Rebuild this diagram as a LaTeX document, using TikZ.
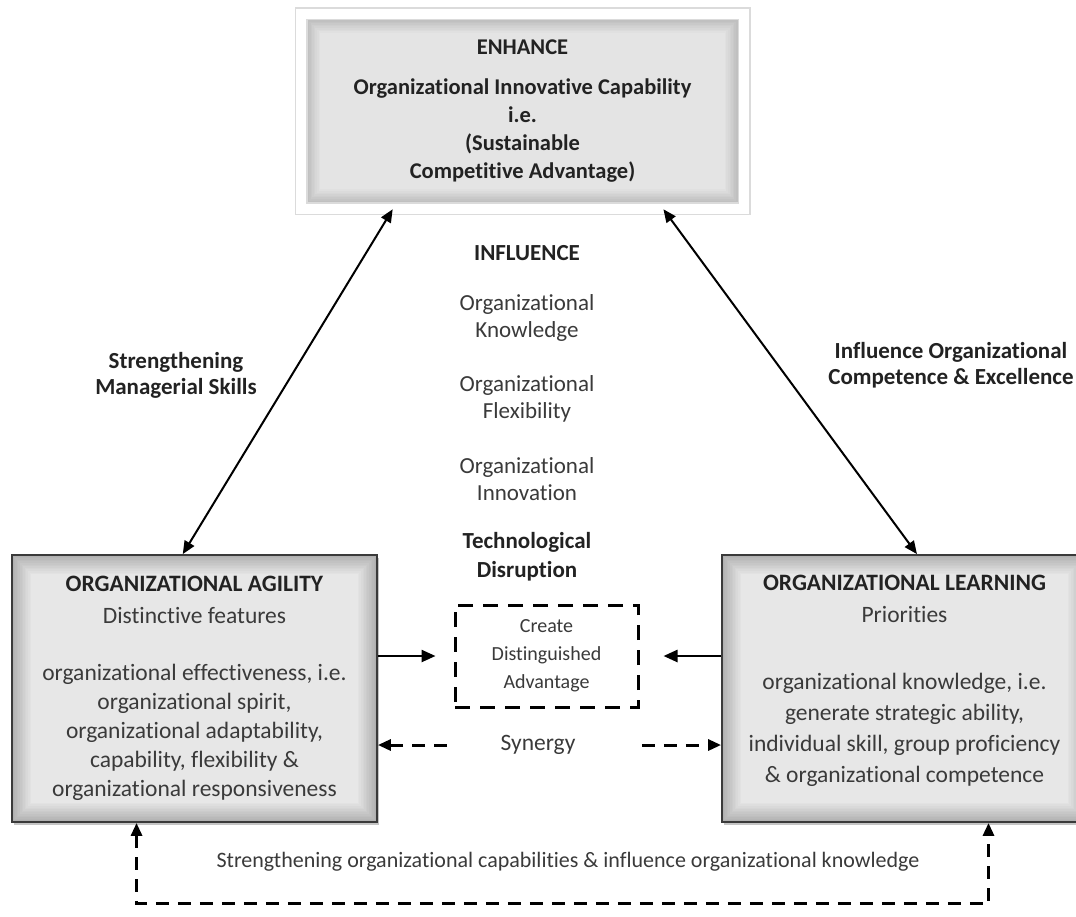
\documentclass[tikz,border=0pt]{standalone}
\usepackage{fontspec}
\setmainfont{Carlito}[Ligatures=NoCommon]
\usetikzlibrary{arrows.meta,calc,shadows}
\definecolor{txt_gray}{HTML}{3A3A3A}
\definecolor{bold_gray}{HTML}{222222}
\definecolor{edge_gray}{HTML}{3A3A3A}

\tikzset{
    % grey frame with a bevelled edge
    bevel/.style={path picture={
        \foreach \k in {0,...,12}{
            \pgfmathsetmacro{\lvl}{#1-1.8*\k}
            \fill[black!\lvl] ([shift={(\k*1.6pt,-\k*1.6pt)}]path picture bounding box.north west)
                rectangle ([shift={(-\k*1.6pt,\k*1.6pt)}]path picture bounding box.south east);
        }}},
    mainbox/.style={minimum width=365pt, minimum height=267pt, inner sep=0pt,
        draw=edge_gray, line width=1.8pt, bevel=31,
        drop shadow={shadow xshift=1.5pt, shadow yshift=-3pt, opacity=0.45}},
    topbox/.style={minimum width=443pt, minimum height=195pt, inner sep=0pt,
        draw=black!14, line width=1.5pt, double=white, double distance=10pt, bevel=32},
    advbox/.style={minimum width=183pt, minimum height=102pt, draw=black,
        line width=3pt, dash pattern=on 15pt off 10pt,
        font=\fontsize{20}{28}\selectfont},
    headtext/.style={font=\fontsize{23}{26}\selectfont\bfseries, text=bold_gray},
    colitem/.style={font=\fontsize{23}{27}\selectfont},
    twoway/.style={{Triangle[length=13pt,width=11pt]}-{Triangle[length=13pt,width=11pt]},
        line width=2pt},
    oneway/.style={-{Triangle[length=14pt,width=12pt]}, line width=2.5pt},
    dashway/.style={-{Triangle[length=13pt,width=11pt]}, line width=3pt,
        dash pattern=on 13pt off 9pt},
}

\begin{document}
\begin{tikzpicture}[x=1pt, y=-1pt,
    every node/.style={align=center, text=txt_gray, font=\fontsize{23.5}{29}\selectfont}]

    \useasboundingbox[fill=white] (0,0) rectangle (1076,916);

    % the three boxes
    \node[topbox, headtext, font=\fontsize{22.5}{28}\selectfont\bfseries] (enh) at (522.5,111)
        {ENHANCE\\[12pt] Organizational Innovative Capability\\ i.e.\\ (Sustainable\\ Competitive Advantage)};

    \node[mainbox] (agil) at (194.5,688.5)
        {\textcolor{bold_gray}{\textbf{ORGANIZATIONAL AGILITY}}\\[3pt]
         Distinctive features\\[28pt]
         organizational effectiveness, i.e.\\
         organizational spirit,\\
         organizational adaptability,\\
         capability, flexibility \&\\
         organizational responsiveness};

    \node[mainbox, font=\fontsize{23.5}{31}\selectfont] (lrn) at (904.5,688.5)
        {\textcolor{bold_gray}{\textbf{ORGANIZATIONAL LEARNING}}\\[1pt]
         Priorities\\[36pt]
         organizational knowledge, i.e.\\
         generate strategic ability,\\
         individual skill, group proficiency\\
         \& organizational competence\\[-11pt]\mbox{}};

    \node[advbox] (adv) at (546.5,656) {Create\\ Distinguished\\ Advantage};

    % middle column
    \node[headtext] (infl) at (527,253) {INFLUENCE};
    \node[colitem] (know) at (527,318) {Organizational\\ Knowledge};
    \node[colitem] (flex) at (527,399) {Organizational\\ Flexibility};
    \node[colitem] (innov) at (527,479) {Organizational\\ Innovation};
    \node[headtext, font=\fontsize{23}{29}\selectfont\bfseries] (tech) at (527,557) {Technological\\ Disruption};

    \node (syn) at (538,745) {Synergy};

    % side labels
    \node[headtext] (mgr) at (176,375) {Strengthening\\ Managerial Skills};
    \node[headtext] (comp) at (951,365) {Influence Organizational\\ Competence \& Excellence};
    \node[font=\fontsize{22}{26}\selectfont] (cap) at (568,862)
        {Strengthening organizational capabilities \& influence organizational knowledge};

    % connectors
    \draw[twoway] ($(enh.south west)!0.208!(enh.south east)$) -- ($(agil.north west)!0.468!(agil.north east)$);
    \draw[twoway] ($(enh.south west)!0.817!(enh.south east)$) -- ($(lrn.north west)!0.534!(lrn.north east)$);

    \draw[oneway, shorten >=18pt] (agil.east |- adv.west) -- (adv.west);
    \draw[oneway, shorten >=24pt] (lrn.west |- adv.east) -- (adv.east);

    \draw[dashway, shorten <=50pt] (syn.west) -- (agil.east |- syn.west);
    \draw[dashway, shorten <=63pt] (syn.east) -- (lrn.west |- syn.east);

    \draw[dashway, {Triangle[length=13pt,width=11pt]}-{Triangle[length=13pt,width=11pt]}]
        ($(agil.south west)!0.342!(agil.south east)$) -- ++(0,81)
        -| ($(lrn.south west)!0.729!(lrn.south east)$);

\end{tikzpicture}
\end{document}
